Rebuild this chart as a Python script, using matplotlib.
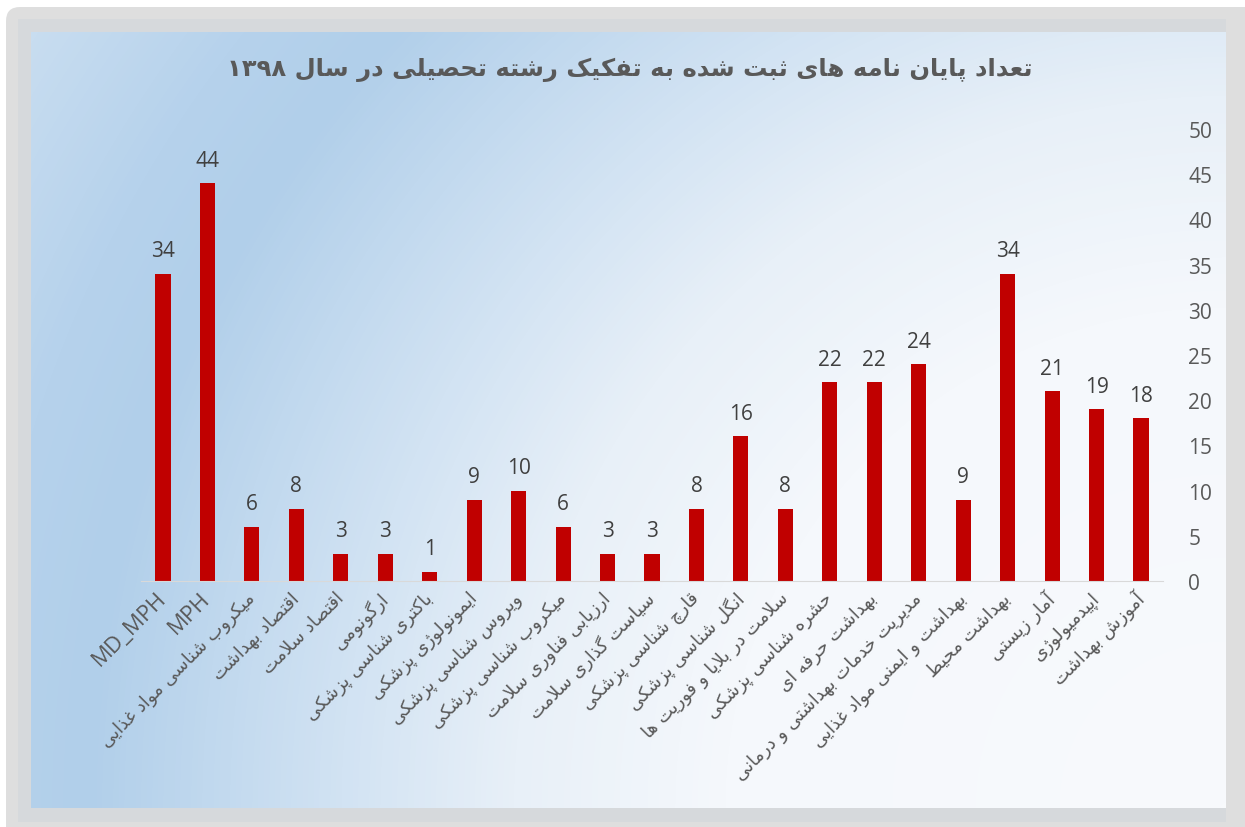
import re
import numpy as np
import matplotlib
matplotlib.use("Agg")
import matplotlib.pyplot as plt
from matplotlib.colors import LinearSegmentedColormap
from matplotlib.patches import FancyBboxPatch, Rectangle

title = "تعداد پایان نامه های ثبت شده به تفکیک رشته تحصیلی در سال ۱۳۹۸"

# categories in reading order (right to left on the chart)
categories = [
    "آموزش بهداشت", "اپیدمیولوژی", "آمار زیستی", "بهداشت محیط",
    "بهداشت و ایمنی مواد غذایی", "مدیریت خدمات بهداشتی و درمانی",
    "بهداشت حرفه ای", "حشره شناسی پزشکی", "سلامت در بلایا و فوریت ها",
    "انگل شناسی پزشکی", "قارچ شناسی پزشکی", "سیاست گذاری سلامت",
    "ارزیابی فناوری سلامت", "میکروب شناسی پزشکی", "ویروس شناسی پزشکی",
    "ایمونولوژی پزشکی", "باکتری شناسی پزشکی", "ارگونومی", "اقتصاد سلامت",
    "اقتصاد بهداشت", "میکروب شناسی مواد غذایی", "MPH", "MD_MPH",
]
counts = [18, 19, 21, 34, 9, 24, 22, 22, 8, 16, 8, 3, 3, 6, 10, 9, 1, 3, 3, 8, 6, 44, 34]
y_ticks = list(range(0, 51, 5))

# presentation forms: isolated, final, (initial, medial)
FORMS = {
    "ا": (0xFE8D, 0xFE8E), "آ": (0xFE81, 0xFE82),
    "ب": (0xFE8F, 0xFE90, 0xFE91, 0xFE92), "ت": (0xFE95, 0xFE96, 0xFE97, 0xFE98),
    "ث": (0xFE99, 0xFE9A, 0xFE9B, 0xFE9C), "ج": (0xFE9D, 0xFE9E, 0xFE9F, 0xFEA0),
    "ح": (0xFEA1, 0xFEA2, 0xFEA3, 0xFEA4), "خ": (0xFEA5, 0xFEA6, 0xFEA7, 0xFEA8),
    "د": (0xFEA9, 0xFEAA), "ذ": (0xFEAB, 0xFEAC), "ر": (0xFEAD, 0xFEAE),
    "ز": (0xFEAF, 0xFEB0), "ژ": (0xFB8A, 0xFB8B),
    "س": (0xFEB1, 0xFEB2, 0xFEB3, 0xFEB4), "ش": (0xFEB5, 0xFEB6, 0xFEB7, 0xFEB8),
    "ص": (0xFEB9, 0xFEBA, 0xFEBB, 0xFEBC), "ض": (0xFEBD, 0xFEBE, 0xFEBF, 0xFEC0),
    "ط": (0xFEC1, 0xFEC2, 0xFEC3, 0xFEC4), "ظ": (0xFEC5, 0xFEC6, 0xFEC7, 0xFEC8),
    "ع": (0xFEC9, 0xFECA, 0xFECB, 0xFECC), "غ": (0xFECD, 0xFECE, 0xFECF, 0xFED0),
    "ف": (0xFED1, 0xFED2, 0xFED3, 0xFED4), "ق": (0xFED5, 0xFED6, 0xFED7, 0xFED8),
    "ل": (0xFEDD, 0xFEDE, 0xFEDF, 0xFEE0), "م": (0xFEE1, 0xFEE2, 0xFEE3, 0xFEE4),
    "ن": (0xFEE5, 0xFEE6, 0xFEE7, 0xFEE8), "ه": (0xFEE9, 0xFEEA, 0xFEEB, 0xFEEC),
    "و": (0xFEED, 0xFEEE), "پ": (0xFB56, 0xFB57, 0xFB58, 0xFB59),
    "چ": (0xFB7A, 0xFB7B, 0xFB7C, 0xFB7D), "ک": (0xFB8E, 0xFB8F, 0xFB90, 0xFB91),
    "گ": (0xFB92, 0xFB93, 0xFB94, 0xFB95), "ی": (0xFBFC, 0xFBFD, 0xFBFE, 0xFBFF),
}
LAM_ALEF = {"ا": (0xFEFB, 0xFEFC), "آ": (0xFEF5, 0xFEF6)}


def shape(text):
    out = []
    n = len(text)
    i = 0
    while i < n:
        c = text[i]
        prev = text[i - 1] if i > 0 else ""
        link_prev = prev in FORMS and len(FORMS[prev]) == 4
        if c == "ل" and i + 1 < n and text[i + 1] in LAM_ALEF:
            lig = LAM_ALEF[text[i + 1]]
            out.append(chr(lig[1] if link_prev else lig[0]))
            i += 2
            continue
        if c not in FORMS:
            out.append(c)
            i += 1
            continue
        f = FORMS[c]
        nxt = text[i + 1] if i + 1 < n else ""
        link_next = len(f) == 4 and nxt in FORMS
        if link_prev and link_next:
            g = f[3]
        elif link_prev:
            g = f[1]
        elif link_next:
            g = f[2]
        else:
            g = f[0]
        out.append(chr(g))
        i += 1
    return "".join(out)


def is_arabic(text):
    return re.search(r"[\u0600-\u06FF]", text) is not None


def rtl(text):
    if not is_arabic(text):
        return text
    parts = re.findall(r"[0-9\u06F0-\u06F9]+|.", shape(text))
    return "".join(reversed(parts))


fig = plt.figure(figsize=(12.45, 8.28), dpi=100, facecolor="white")

# frame and gradient background
bg = fig.add_axes([0, 0, 1, 1])
bg.axis("off")
bg.add_patch(FancyBboxPatch((6, 8), 1260, 840, boxstyle="round,pad=0,rounding_size=14",
                            fc="#dedede", ec="none", zorder=0))
bg.add_patch(Rectangle((18, 20), 1208, 803, fc="#d6d9dc", ec="none", zorder=0.5))
x0, x1, y0, y1 = 31, 1226, 33, 809
xx, yy = np.meshgrid(np.arange(x0, x1), np.arange(y0, y1))
dist = np.hypot(xx - x1, yy - y1) / np.hypot(x1 - x0, y1 - y0)
grad = LinearSegmentedColormap.from_list("bg", [
    (0, "#f8fafc"), (0.35, "#f5f8fc"), (0.5, "#e8f0f8"), (0.62, "#d2e3f3"),
    (0.8, "#b1cfea"), (0.88, "#b6d2ec"), (1, "#c8ddf0")])
bg.imshow(dist, cmap=grad, vmin=0, vmax=1, extent=(x0, x1, y1, y0),
          interpolation="bilinear", zorder=2)
bg.set_aspect("auto")
bg.set_xlim(0, 1245)
bg.set_ylim(828, 0)

ax = fig.add_axes([140.8 / 1245, 1 - 582 / 828, 1022.4 / 1245, 452 / 828])
ax.patch.set_alpha(0)
x = np.arange(len(categories))
bars = ax.bar(x, counts, width=0.34, color="#c00000")
ax.bar_label(bars, padding=9, fontsize=15, color="#404040", family="Open Sans")

ax.set_xlim(len(categories) - 0.5, -0.5)
ax.set_ylim(0, 50)
ax.set_yticks(y_ticks)
ax.yaxis.tick_right()
ax.tick_params(axis="y", length=0, pad=18, labelsize=15, labelcolor="#595959")
for t in ax.get_yticklabels():
    t.set_family("Open Sans")
for s in ["top", "left", "right"]:
    ax.spines[s].set_visible(False)
ax.spines["bottom"].set_color("#d9d9d9")

ax.set_xticks(x)
ax.set_xticklabels([rtl(c) for c in categories], rotation=45, ha="right", va="center",
                   rotation_mode="anchor", fontsize=13, color="#595959", family="DejaVu Sans")
for t, c in zip(ax.get_xticklabels(), categories):
    if not is_arabic(c):
        t.set_family("Open Sans")
        t.set_fontsize(16)
ax.tick_params(axis="x", length=0, pad=10)

fig.text(630 / 1245, 1 - 70 / 828, rtl(title), fontsize=17.5, fontweight="bold",
         color="#595959", ha="center", va="center", family="DejaVu Sans")

fig.savefig("out.png", dpi=100, facecolor="white")
